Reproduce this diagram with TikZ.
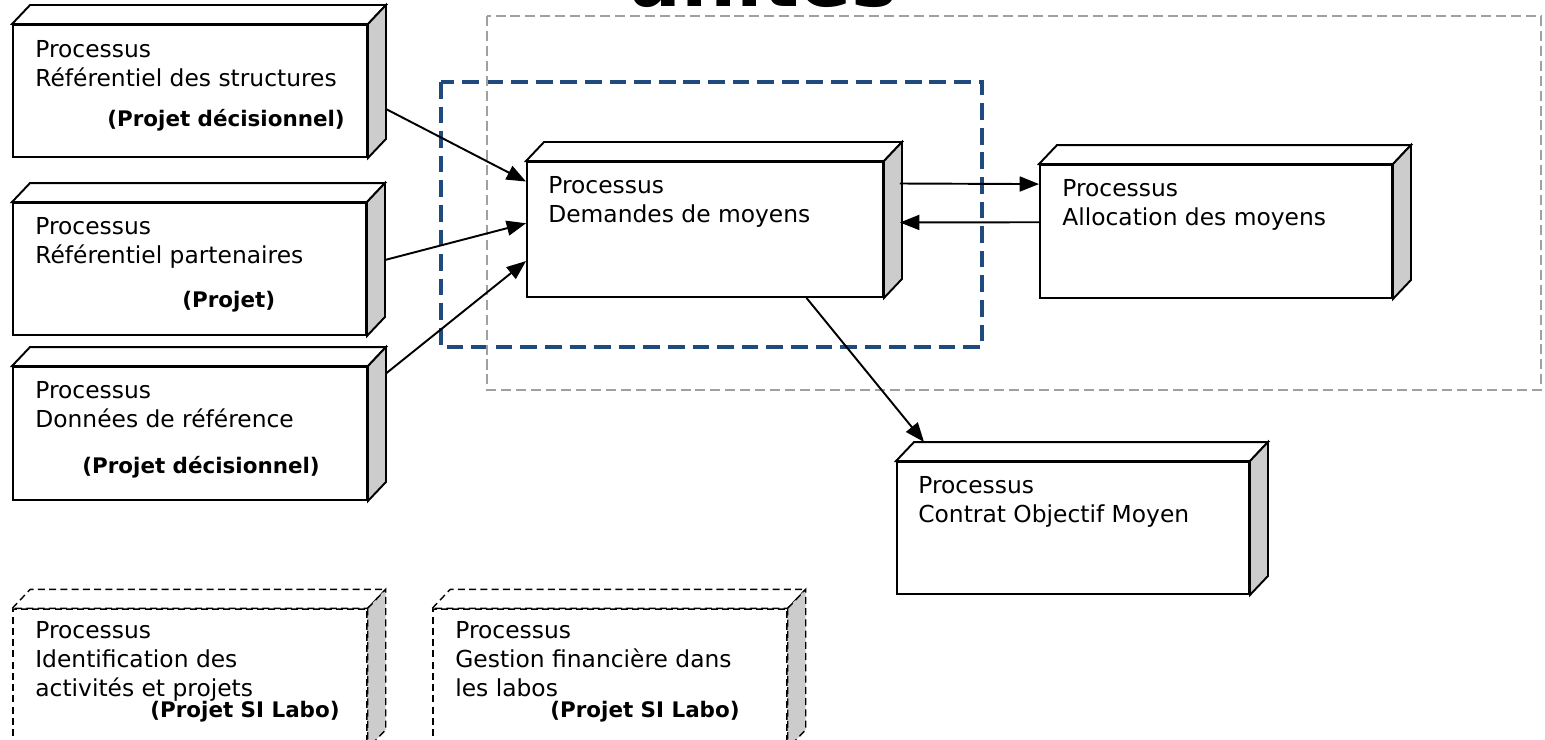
\documentclass[tikz,border=0pt]{standalone}
\usepackage{fontspec}
\setmainfont{DejaVu Sans}
\usetikzlibrary{arrows.meta,positioning,fit,calc}
\definecolor{pcside}{HTML}{CCCCCC}
\definecolor{pcframe}{HTML}{A0A0A0}
\definecolor{pcblue}{HTML}{1F4A7E}
\definecolor{pcink}{HTML}{000000}

\begin{document}
\begin{tikzpicture}[x=0.02cm,y=-0.02cm,
    procbox/.style={draw=pcink,line width=1.1pt,fill=white,inner sep=0pt},
    ghostbox/.style={draw=pcink,line width=0.8pt,dash pattern=on 4pt off 2.4pt,fill=white,inner sep=0pt},
    proctext/.style={anchor=north west,inner sep=0pt,align=left,font=\fontsize{13.3}{16.4}\selectfont},
    proctag/.style={anchor=base west,inner sep=0pt,font=\fontsize{12.2}{14}\selectfont\bfseries},
    flow/.style={draw=pcink,line width=1.1pt,-{Triangle[length=11pt,width=8.5pt]}}]
  \useasboundingbox (0,0) rectangle (1545,740);
  % cadres
  \draw[pcblue,line width=2pt,dash pattern=on 9.5pt off 4.5pt] (441,82) rectangle (982,347);
  \draw[pcframe,line width=1.4pt,dash pattern=on 5.7pt off 2.8pt] (487,16) rectangle (1541,390);
  \node[anchor=base,inner sep=0pt,font=\fontsize{44}{50}\selectfont\bfseries] (titre) at (762,7) {unités};
  % boites processus
  \node[procbox,fit={(13,25) (367,157)}] (ref) {};
  \node[procbox,fit={(13,203) (366,335)}] (part) {};
  \node[procbox,fit={(13,367) (367,500)}] (don) {};
  \node[procbox,fit={(527,162) (883,297)}] (dem) {};
  \node[procbox,fit={(1040,165) (1392,298)}] (alloc) {};
  \node[procbox,fit={(897,462) (1249,594)}] (com) {};
  \foreach \bx in {ref,part,don,dem,alloc,com} {
    \draw[procbox] (\bx.north west) -- ++(18,-19) -- ($(\bx.north east)+(18,-19)$) -- (\bx.north east) -- cycle;
    \draw[procbox,fill=pcside] (\bx.north east) -- ++(18,-19) -- ($(\bx.south east)+(18,-19)$) -- (\bx.south east) -- cycle;
  }
  % boites en pointilles (projet SI Labo)
  \node[ghostbox,fit={(13,609) (367,748)}] (ident) {};
  \node[ghostbox,fit={(433,609) (787,748)}] (gfin) {};
  \foreach \bx in {ident,gfin} {
    \draw[ghostbox] (\bx.north west) -- ++(18,-19) -- ($(\bx.north east)+(18,-19)$) -- (\bx.north east) -- cycle;
    \draw[ghostbox,fill=pcside] (\bx.north east) -- ++(18,-19) -- ($(\bx.south east)+(18,-19)$) -- (\bx.south east) -- cycle;
  }
  % textes
  \node[proctext] (ref-t) at (35,40) {Processus\\Référentiel des structures};
  \node[proctag] (ref-p) at (107,127) {(Projet décisionnel)};
  \node[proctext] (part-t) at (35,217) {Processus\\Référentiel partenaires};
  \node[proctag] (part-p) at (182,307) {(Projet)};
  \node[proctext] (don-t) at (35,381) {Processus\\Données de référence};
  \node[proctag] (don-p) at (82,473) {(Projet décisionnel)};
  \node[proctext] (dem-t) at (548,176) {Processus\\Demandes de moyens};
  \node[proctext] (alloc-t) at (1062,179) {Processus\\Allocation des moyens};
  \node[proctext] (com-t) at (918,476) {Processus\\Contrat Objectif Moyen};
  \node[proctext] (ident-t) at (35,621) {Processus\\Identification des\\activités et projets};
  \node[proctag] (ident-p) at (150,717) {(Projet SI Labo)};
  \node[proctext] (gfin-t) at (455,621) {Processus\\Gestion financière dans\\les labos};
  \node[proctag] (gfin-p) at (550,717) {(Projet SI Labo)};
  % flux
  \draw[flow] ($(ref.east)+(18,18)$) -- (dem.165);
  \draw[flow] ($(part.east)+(18,-9)$) -- (dem.178);
  \draw[flow] ($(don.east)+(18,-60)$) -- (dem.190);
  \draw[flow] ($(dem.east)+(16,-46)$) -- (alloc.165);
  \draw[flow] (alloc.177) -- ($(dem.east)+(16,-7)$);
  \draw[flow] (dem.326) -- ($(com.north west)+(28,-19)$);
\end{tikzpicture}
\end{document}
